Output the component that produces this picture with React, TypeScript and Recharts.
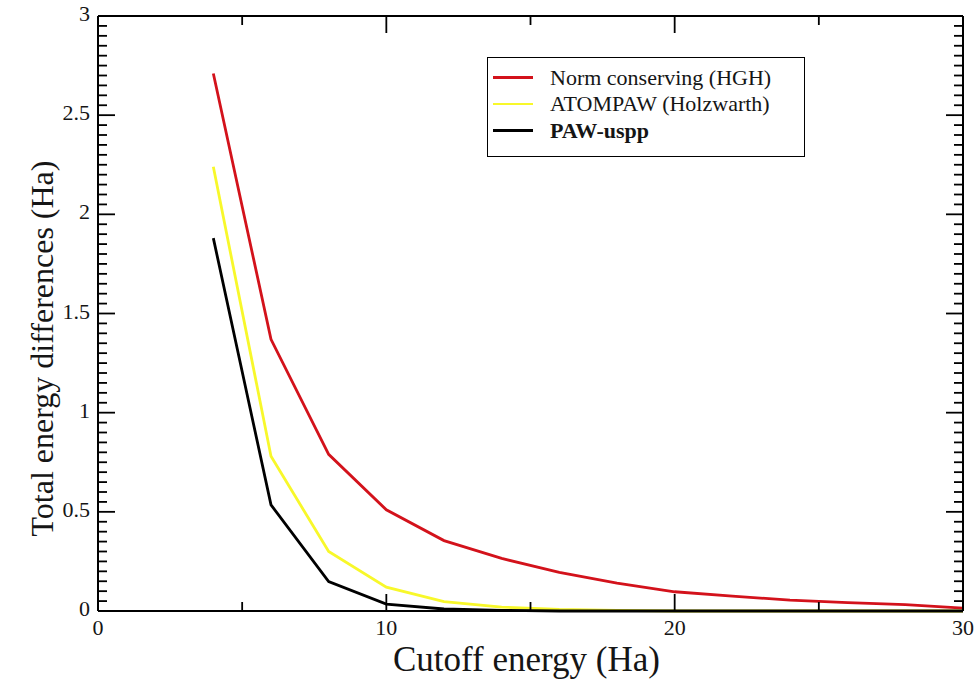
import { Legend, Line, LineChart, XAxis, YAxis } from "recharts";

const cutoff = [4, 6, 8, 10, 12, 14, 16, 18, 20, 22, 24, 26, 28, 30];
const normConserving = [2.71, 1.37, 0.79, 0.51, 0.355, 0.265, 0.195, 0.14, 0.097, 0.075, 0.055, 0.042, 0.032, 0.015];
const atompaw = [2.24, 0.78, 0.3, 0.12, 0.047, 0.02, 0.008, 0.003, 0, 0, 0, 0, 0, 0];
const pawUspp = [1.88, 0.535, 0.148, 0.035, 0.01, 0.003, 0, 0, 0, 0, 0, 0, 0, 0];

const xTicks = [0, 5, 10, 15, 20, 25, 30];
const xLabels = [0, 10, 20, 30];
const yMajor = [0, 0.5, 1, 1.5, 2, 2.5, 3];
// minor ticks every 0.05 on the energy axis
const yTicks = Array.from({ length: 61 }, (_, i) => Math.round(i * 5) / 100);

const series = [
  { key: "nc", name: "Norm conserving (HGH)", color: "#d3121b", bold: false },
  { key: "paw", name: "ATOMPAW (Holzwarth)", color: "#f8f82a", bold: false },
  { key: "uspp", name: "PAW-uspp", color: "#000000", bold: true },
];

const data = cutoff.map((x, i) => ({
  x,
  nc: normConserving[i],
  paw: atompaw[i],
  uspp: pawUspp[i],
}));

const font = "'Liberation Serif', 'Times New Roman', serif";
const ink = "#151515";

const isMajorY = (v: number) => yMajor.some((m) => Math.abs(m - v) < 1e-6);

function XTick(props: any) {
  const { x, y, payload, side } = props;
  const v = payload.value as number;
  const major = v % 10 === 0;
  const len = major ? 17 : 9;
  const dir = side === "bottom" ? -1 : 1;
  return (
    <g>
      <line x1={x} x2={x} y1={y} y2={y + dir * len} stroke="#000" strokeWidth={1.8} />
      {side === "bottom" && xLabels.includes(v) && (
        <text x={x} y={y + 24} textAnchor="middle" style={{ fontFamily: font, fontSize: 22 }} fill={ink}>
          {v}
        </text>
      )}
    </g>
  );
}

function YTick(props: any) {
  const { x, y, payload, side } = props;
  const v = payload.value as number;
  const major = isMajorY(v);
  const len = major ? 17 : 9;
  const dir = side === "left" ? 1 : -1;
  return (
    <g>
      <line x1={x} x2={x + dir * len} y1={y} y2={y} stroke="#000" strokeWidth={1.8} />
      {side === "left" && major && (
        <text x={x - 8} y={y + 5} textAnchor="end" style={{ fontFamily: font, fontSize: 22 }} fill={ink}>
          {String(v)}
        </text>
      )}
    </g>
  );
}

function XTitle(props: any) {
  const { viewBox } = props;
  return (
    <text
      x={viewBox.x + viewBox.width / 2 - 4}
      y={viewBox.y + 60}
      textAnchor="middle"
      style={{ fontFamily: font, fontSize: 35 }}
      fill={ink}
    >
      Cutoff energy (Ha)
    </text>
  );
}

function YTitle(props: any) {
  const { viewBox } = props;
  const cx = viewBox.x + 42;
  const cy = viewBox.y + viewBox.height / 2 + 35;
  return (
    <text
      x={cx}
      y={cy}
      transform={`rotate(-90, ${cx}, ${cy})`}
      textAnchor="middle"
      dominantBaseline="central"
      style={{ fontFamily: font, fontSize: 32 }}
      fill={ink}
    >
      Total energy differences (Ha)
    </text>
  );
}

const legendRowTop = [8.5, 35, 61.5];

function LegendBox() {
  return (
    <div
      style={{
        position: "relative",
        border: "1.5px solid #000",
        width: 318,
        height: 100,
        background: "#fff",
        fontFamily: font,
        boxSizing: "border-box",
      }}
    >
      {series.map((s, i) => (
        <div
          key={s.key}
          style={{ position: "absolute", top: legendRowTop[i], left: 0, display: "flex", alignItems: "center", height: 22 }}
        >
          <span
            style={{ display: "inline-block", width: 40, height: 2.8, background: s.color, marginLeft: 5, marginRight: 17 }}
          />
          <span
            style={{
              fontSize: 22,
              lineHeight: "22px",
              fontWeight: s.bold ? "bold" : "normal",
              color: ink,
              whiteSpace: "nowrap",
            }}
          >
            {s.name}
          </span>
        </div>
      ))}
    </div>
  );
}

const fmtY = (v: number) => (isMajorY(v) ? String(v) : "");
const fmtX = (v: number) => (xLabels.includes(v) ? String(v) : "");

export default function App() {
  return (
    <div style={{ position: "absolute", left: 0, top: 0, background: "#fff" }}>
      <LineChart width={977} height={680} data={data} margin={{ top: 15, right: 13, bottom: 0, left: 0 }}>
        <XAxis
          dataKey="x"
          type="number"
          domain={[0, 30]}
          ticks={xTicks}
          interval={0}
          minTickGap={0}
          tickFormatter={fmtX}
          height={69}
          tickSize={0}
          tickMargin={0}
          tickLine={false}
          axisLine={{ stroke: "#000", strokeWidth: 2 }}
          tick={<XTick side="bottom" />}
          label={<XTitle />}
        />
        <XAxis
          xAxisId="top"
          orientation="top"
          dataKey="x"
          type="number"
          domain={[0, 30]}
          ticks={xTicks}
          interval={0}
          minTickGap={0}
          tickFormatter={() => ""}
          height={1}
          tickSize={0}
          tickMargin={0}
          tickLine={false}
          axisLine={{ stroke: "#000", strokeWidth: 2 }}
          tick={<XTick side="top" />}
        />
        <YAxis
          type="number"
          domain={[0, 3]}
          ticks={yTicks}
          interval={0}
          minTickGap={0}
          tickFormatter={fmtY}
          width={98}
          tickSize={0}
          tickMargin={0}
          tickLine={false}
          axisLine={{ stroke: "#000", strokeWidth: 2 }}
          tick={<YTick side="left" />}
          label={<YTitle />}
        />
        <YAxis
          yAxisId="right"
          orientation="right"
          type="number"
          domain={[0, 3]}
          ticks={yTicks}
          interval={0}
          minTickGap={0}
          tickFormatter={() => ""}
          width={1}
          tickSize={0}
          tickMargin={0}
          tickLine={false}
          axisLine={{ stroke: "#000", strokeWidth: 2 }}
          tick={<YTick side="right" />}
        />
        <Legend
          layout="vertical"
          align="center"
          verticalAlign="middle"
          wrapperStyle={{ position: "absolute", left: 487, top: 57, width: 318 }}
          content={() => <LegendBox />}
        />
        {series.map((s) => (
          <Line
            key={s.key}
            type="linear"
            dataKey={s.key}
            name={s.name}
            stroke={s.color}
            strokeWidth={2.8}
            dot={false}
            isAnimationActive={false}
          />
        ))}
        {/* invisible copy so the top/right frame axes get a scale and draw */}
        <Line
          xAxisId="top"
          yAxisId="right"
          dataKey="uspp"
          stroke="none"
          dot={false}
          activeDot={false}
          legendType="none"
          isAnimationActive={false}
        />
      </LineChart>
    </div>
  );
}
